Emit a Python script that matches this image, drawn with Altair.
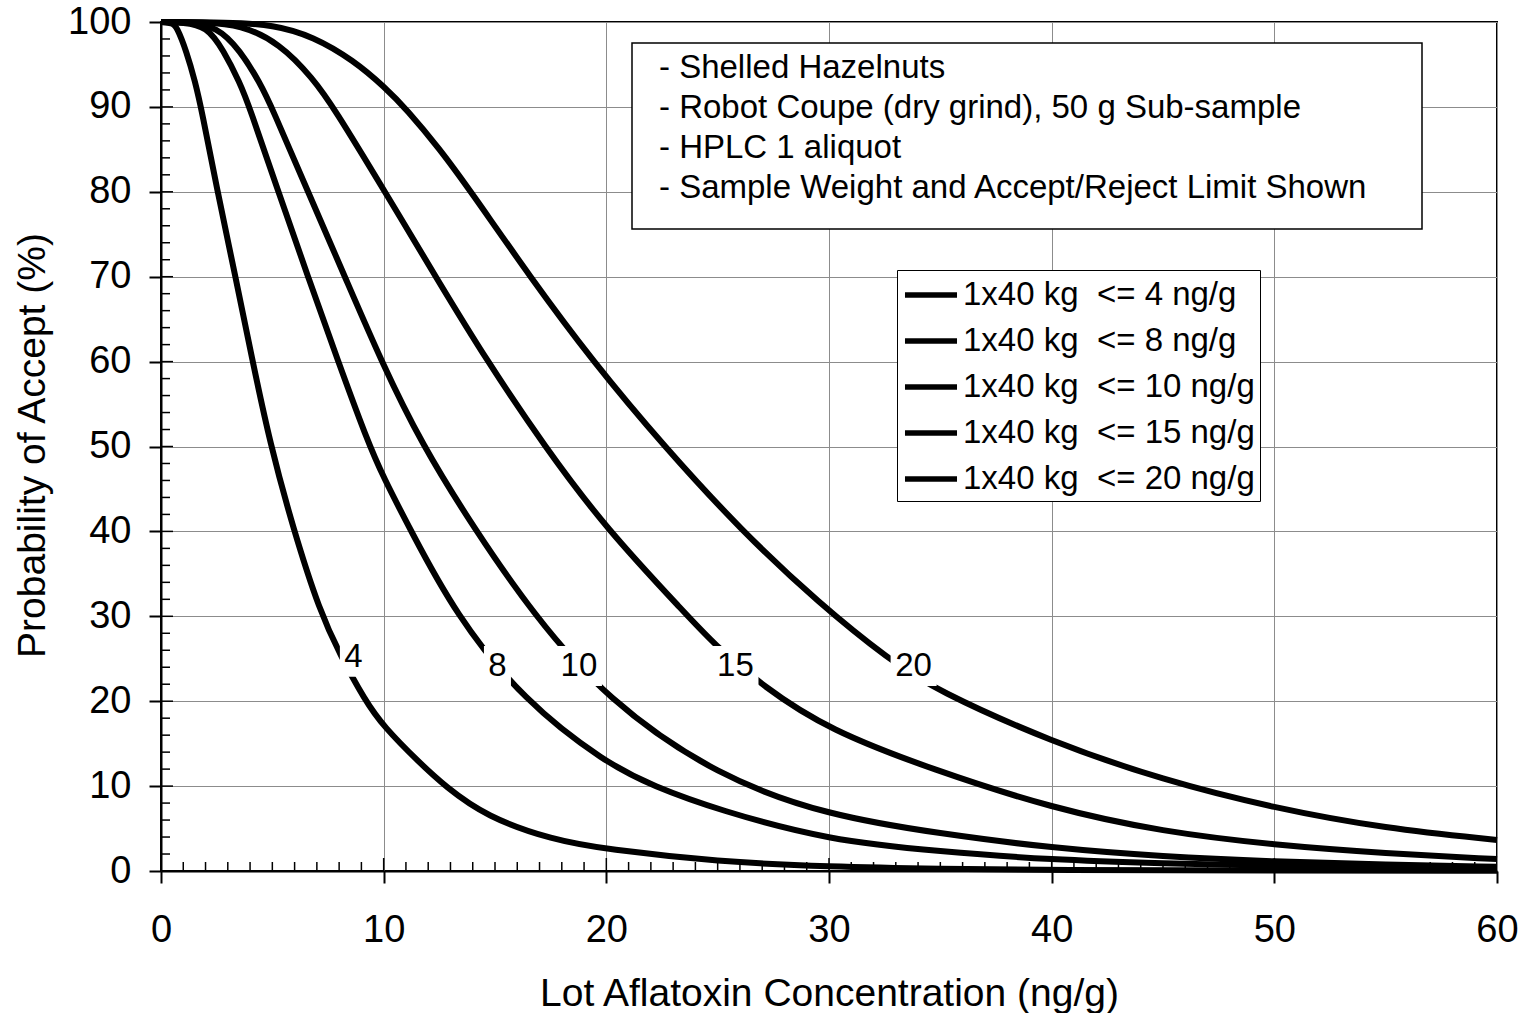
import altair as alt
import pandas as pd

FONT = "Liberation Sans"

# Operating-characteristic curves: lot concentration (ng/g) vs probability of acceptance (%)
lim4_x = [0, 0.5, 0.7, 1.15, 1.53, 1.83, 2.5, 3.32, 4.07, 4.9, 5.94, 7.14, 8.04, 9.16, 10, 11.63, 12.75, 14.6, 17.6, 20, 25, 30, 35, 40, 50, 60]
lim4_y = [100, 99.9, 99.5, 96.5, 93.0, 89.6, 80.5, 70.3, 60.6, 50.3, 40.3, 30.5, 25.5, 20.1, 17, 12.7, 10, 6.4, 3.65, 2.55, 1.1, 0.5, 0.25, 0.12, 0.04, 0.02]

lim8_x = [0, 1.0, 2.05, 2.8, 3.55, 3.97, 5.27, 6.6, 7.96, 9.25, 10, 11.18, 13.2, 16.3, 20, 22.1, 25, 30, 35, 40, 45, 50, 55, 60]
lim8_y = [100, 99.95, 99.5, 96.7, 92.8, 90, 80, 70, 60, 50.8, 46.3, 40.3, 30.3, 20, 12.7, 10, 7.2, 3.6, 2.3, 1.3, 0.9, 0.6, 0.4, 0.3]

lim10_x = [0, 1.2, 2.5, 3.55, 4.45, 4.97, 6.6, 8.26, 9.9, 11.7, 14.1, 16.7, 20, 25, 30, 35, 40, 45, 50, 55, 60]
lim10_y = [100, 99.95, 99.5, 96.7, 92.8, 90, 80, 70, 60, 50.3, 40.2, 30.3, 20.2, 11.1, 6.5, 4.4, 2.7, 1.7, 1.1, 0.75, 0.5]

lim15_x = [0, 2, 3.55, 5.34, 6.84, 7.74, 10.06, 12.45, 14.6, 17.24, 20, 23.6, 24.8, 27.05, 30, 34.7, 40, 45, 50, 55, 60]
lim15_y = [100, 99.95, 99.7, 97.5, 93.3, 90, 80, 69.5, 60.25, 49.95, 40.3, 30.2, 26.8, 21.7, 16.6, 11.9, 7.4, 4.6, 3.06, 2.08, 1.4]

lim20_x = [0, 3, 5.04, 6.84, 8.64, 10.06, 11.03, 12.5, 13.87, 16.57, 19.4, 22.6, 26.1, 29.57, 32.73, 34.8, 40, 45, 50, 55, 60]
lim20_y = [100, 99.95, 99.7, 98.3, 95.5, 92.3, 89.7, 85.1, 80.2, 70, 60, 50, 40, 31.5, 24.85, 21.3, 15.2, 10.7, 7.4, 5.0, 3.65]

series_names = [
    "1x40 kg\u00a0 <= 4 ng/g",
    "1x40 kg\u00a0 <= 8 ng/g",
    "1x40 kg\u00a0 <= 10 ng/g",
    "1x40 kg\u00a0 <= 15 ng/g",
    "1x40 kg\u00a0 <= 20 ng/g",
]

# In-plot curve labels (accept/reject limit)
label_text = ["4", "8", "10", "15", "20"]
label_x = [8.64, 15.11, 18.77, 25.8, 33.8]
label_y = [25.24, 24.15, 24.15, 24.15, 24.15]

note_lines = [
    "- Shelled Hazelnuts",
    "- Robot Coupe (dry grind), 50 g Sub-sample",
    "- HPLC 1 aliquot",
    "- Sample Weight and Accept/Reject Limit Shown",
]

x_ticks = [0, 10, 20, 30, 40, 50, 60]
y_ticks = [0, 10, 20, 30, 40, 50, 60, 70, 80, 90, 100]
x_minor = [v for v in range(1, 60) if v % 10 != 0]
y_minor = [v for v in range(2, 100, 2) if v % 10 != 0]
x_major_in = [10, 20, 30, 40, 50]
y_major_in = [10, 20, 30, 40, 50, 60, 70, 80, 90]

rows = []
for name, xs, ys in zip(series_names,
                        [lim4_x, lim8_x, lim10_x, lim15_x, lim20_x],
                        [lim4_y, lim8_y, lim10_y, lim15_y, lim20_y]):
    for xv, yv in zip(xs, ys):
        rows.append({"conc": xv, "prob": yv, "series": name})
curves = pd.DataFrame(rows)

labels = pd.DataFrame({
    "conc": label_x,
    "prob": label_y,
    "text": label_text,
    "digits": [str(len(t)) for t in label_text],
})

W, H = 1336, 849
X_TITLE = "Lot Aflatoxin Concentration (ng/g)"
Y_TITLE = "Probability of Accept (%)"

x_scale = alt.Scale(domain=[0, 60], nice=False, zero=False)
y_scale = alt.Scale(domain=[0, 100], nice=False)

x_axis = alt.Axis(
    values=x_ticks, format="d", grid=True, gridColor="#8c8c8c", gridWidth=1,
    tickSize=12, tickWidth=2, tickColor="black",
    domainColor="black", domainWidth=2,
    labelFont=FONT, labelFontSize=38, labelColor="black", labelPadding=28,
    labelFlush=False, labelOverlap=False,
    titleFont=FONT, titleFontSize=39, titleFontWeight="normal", titleColor="black",
    titleX=668, titleY=122, titleBaseline="middle", titleAlign="center",
)
y_axis = alt.Axis(
    values=y_ticks, format="d", grid=True, gridColor="#8c8c8c", gridWidth=1,
    tickSize=12, tickWidth=2, tickColor="black",
    domainColor="black", domainWidth=2,
    labelFont=FONT, labelFontSize=38, labelColor="black", labelPadding=18,
    labelFlush=False, labelOverlap=False,
    titleFont=FONT, titleFontSize=39, titleFontWeight="normal", titleColor="black",
    titleX=-129, titleY=423, titleAngle=270, titleBaseline="middle", titleAlign="center",
)


def X(field="conc"):
    return alt.X(f"{field}:Q", scale=x_scale, axis=x_axis, title=X_TITLE)


def Y(field="prob"):
    return alt.Y(f"{field}:Q", scale=y_scale, axis=y_axis, title=Y_TITLE)


# inward half of the tick marks
def x_inner(values, length):
    return alt.Chart(pd.DataFrame({"conc": values})).mark_rule(
        color="black", strokeWidth=1.5
    ).encode(x=X(), y=alt.value(H), y2=alt.value(H - length))


def y_inner(values, length):
    return alt.Chart(pd.DataFrame({"prob": values})).mark_rule(
        color="black", strokeWidth=1.5
    ).encode(y=Y(), x=alt.value(0), x2=alt.value(length))


lines = alt.Chart(curves).mark_line(
    strokeWidth=6, interpolate="basis", strokeJoin="round"
).encode(
    x=X(),
    y=Y(),
    color=alt.Color(
        "series:N",
        scale=alt.Scale(domain=series_names, range=["#000000"] * len(series_names)),
        legend=alt.Legend(
            title=None, orient="none", legendX=736, legendY=248,
            symbolType="M-1.53,0L1.53,0", symbolSize=34 * 34, symbolStrokeWidth=5.5,
            symbolOffset=9,
            labelFont=FONT, labelFontSize=33, labelColor="black", labelLimit=600,
            labelOffset=12, padding=5, rowPadding=9,
            strokeColor="black", fillColor="white",
        ),
    ),
)

# white boxes that open a gap in each curve behind its label
box_paths = [
    "M-0.587,-0.87L0.587,-0.87L0.587,0.87L-0.587,0.87Z",
    "M-1,-0.87L1,-0.87L1,0.87L-1,0.87Z",
]
label_boxes = alt.Chart(labels).mark_point(
    filled=True, color="white", opacity=1, strokeWidth=0, size=46 * 46
).encode(
    x=X(), y=Y(),
    shape=alt.Shape("digits:N", scale=alt.Scale(domain=["1", "2"], range=box_paths), legend=None),
)
label_marks = alt.Chart(labels).mark_text(
    font=FONT, fontSize=33, color="black", align="center", baseline="middle"
).encode(x=X(), y=Y(), text="text:N")

one = pd.DataFrame({"k": [0]})
note_box = alt.Chart(one).mark_rect(
    fill="white", stroke="black", strokeWidth=1.5
).encode(x=alt.value(471), x2=alt.value(1261), y=alt.value(21), y2=alt.value(207))
note_text = alt.Chart(one).mark_text(
    text=note_lines, font=FONT, fontSize=33, color="black",
    align="left", baseline="alphabetic", lineHeight=40,
).encode(x=alt.value(498), y=alt.value(56))

chart = alt.layer(
    x_inner(x_minor, 9), x_inner(x_major_in, 13),
    y_inner(y_minor, 9), y_inner(y_major_in, 12),
    lines, label_boxes, label_marks, note_box, note_text,
).properties(
    width=W, height=H,
    autosize=alt.AutoSizeParams(type="none"),
    padding={"left": 161, "top": 22, "right": 27, "bottom": 142},
    background="white",
).configure_view(
    stroke="black", strokeWidth=2
)

chart.save("out.html", embed_options={"renderer": "svg", "actions": False})
